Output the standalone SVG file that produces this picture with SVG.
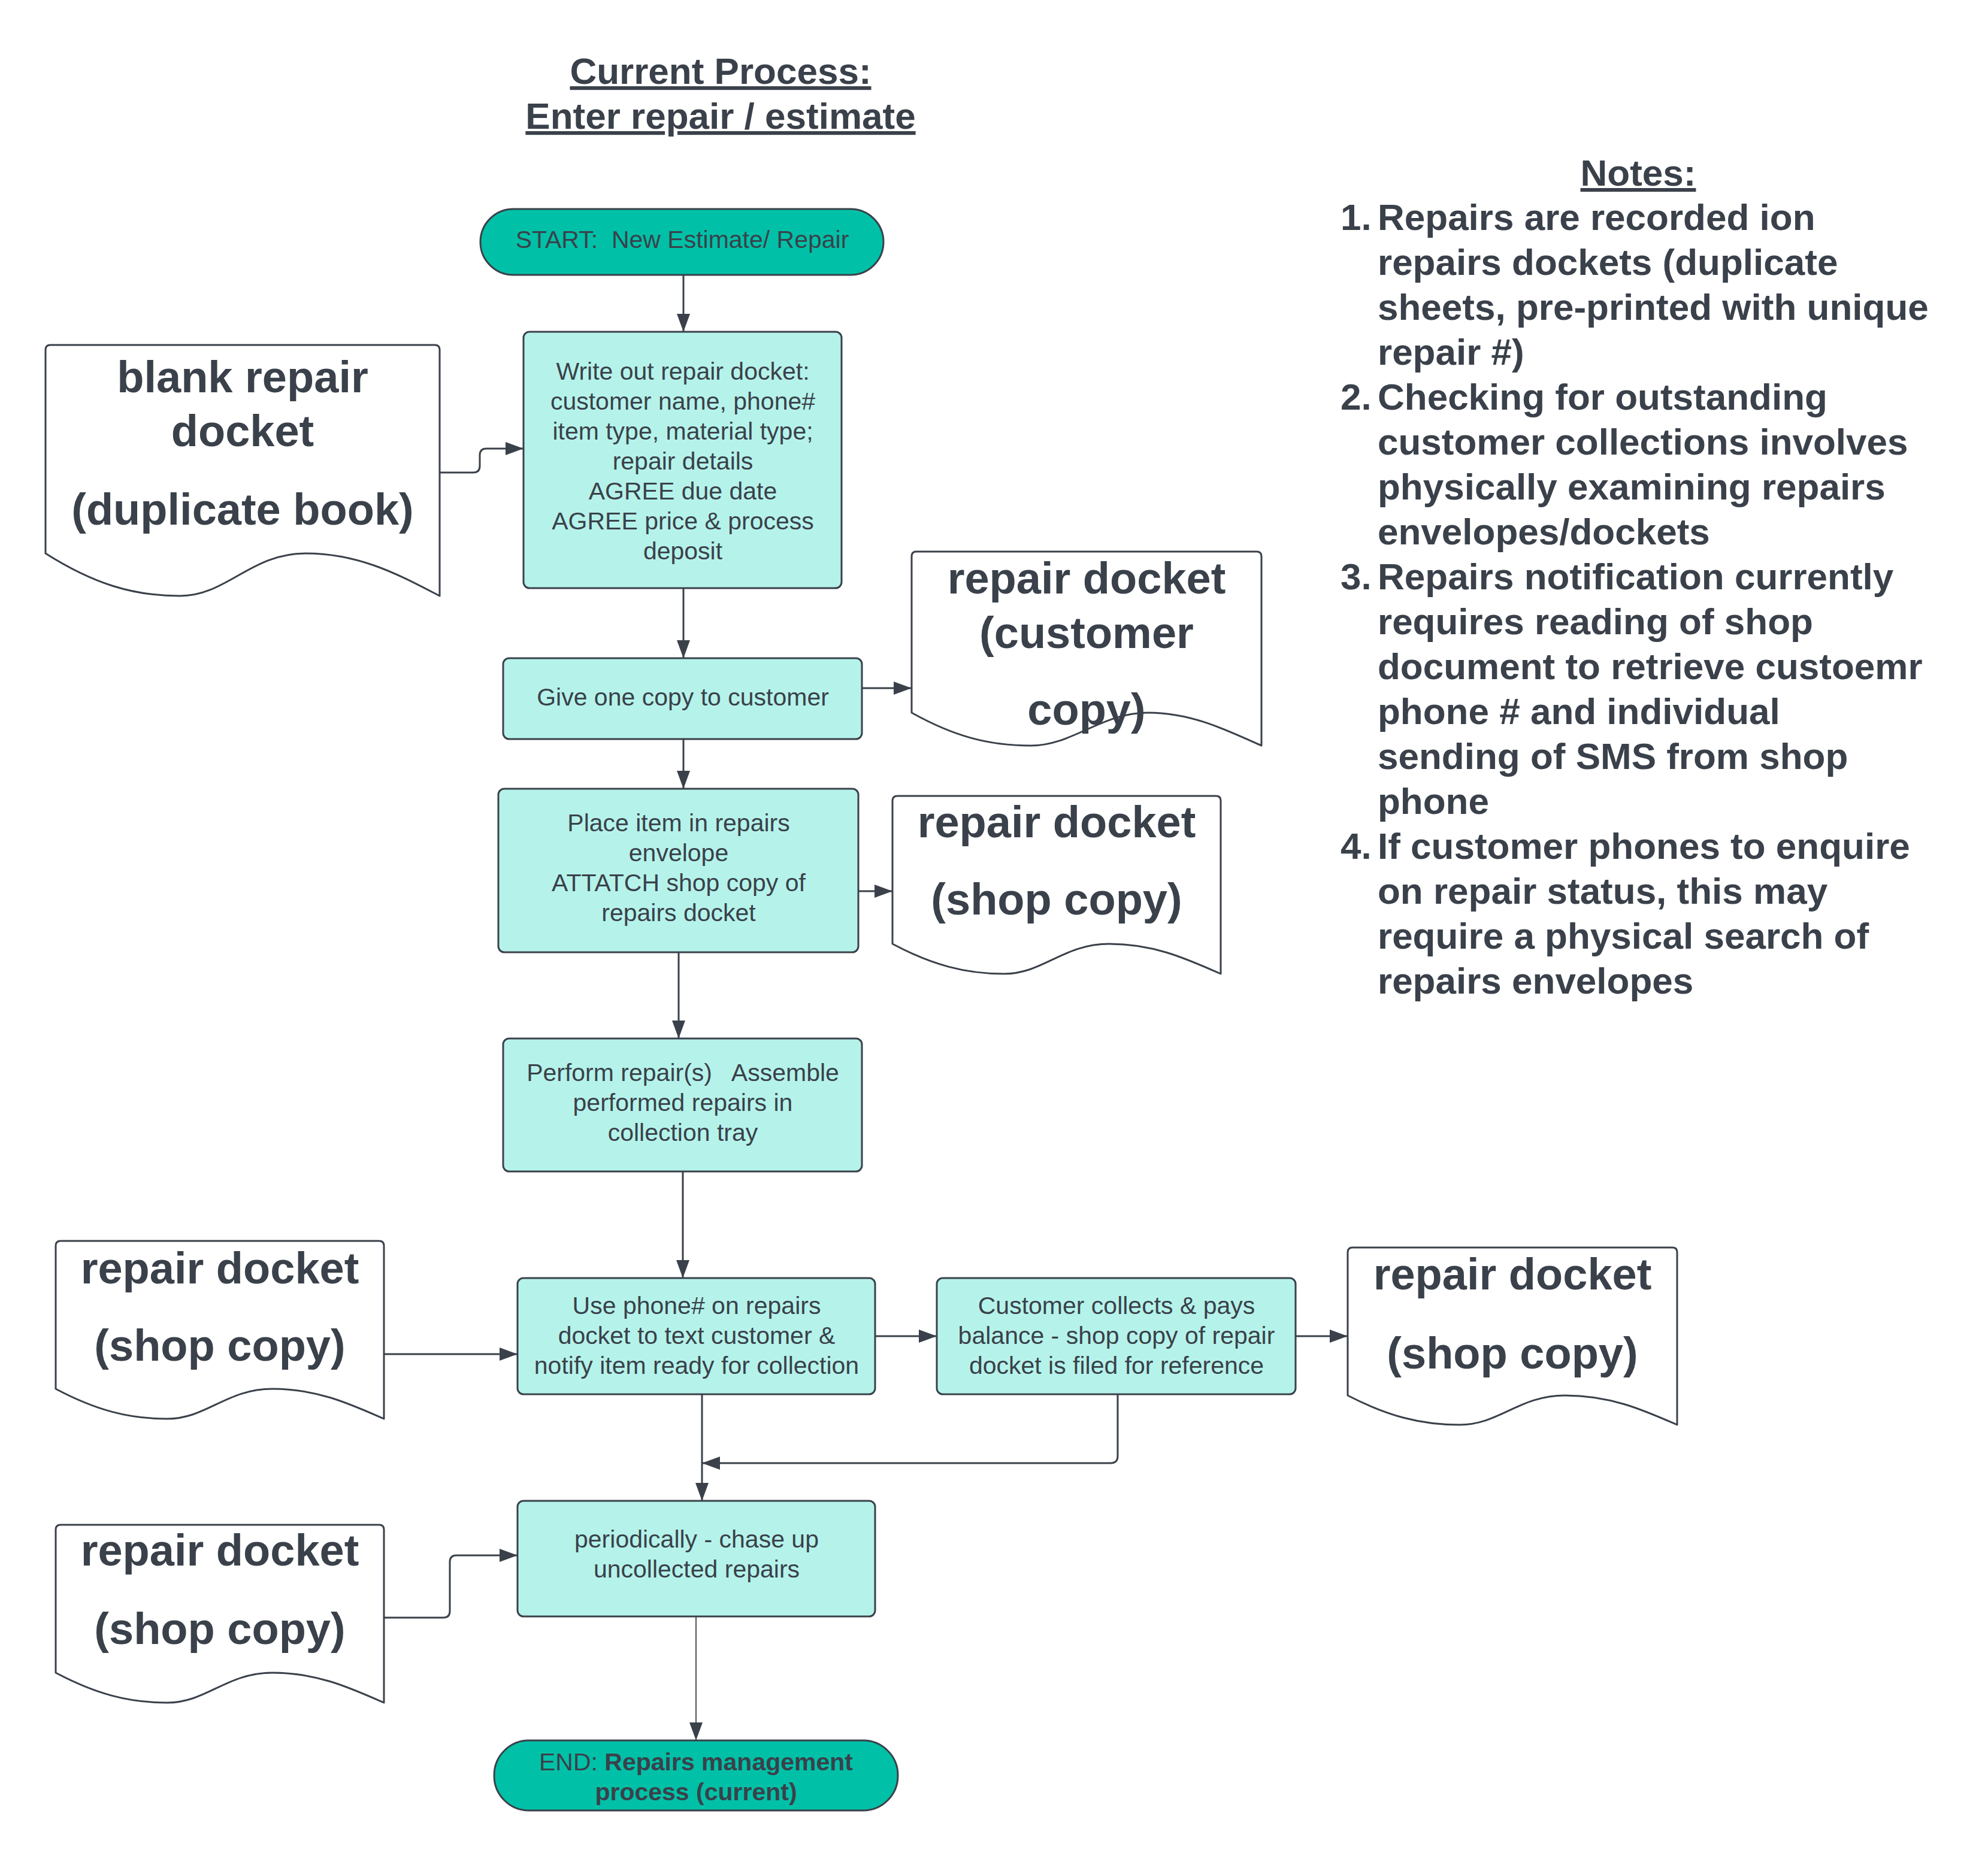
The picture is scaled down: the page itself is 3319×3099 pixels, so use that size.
<svg xmlns="http://www.w3.org/2000/svg" width="3319" height="3099" viewBox="0 0 3319 3099">
<defs>
<style>
.t{font-family:"Liberation Sans",Arial,sans-serif;fill:#3a414a}
.title{font-size:62px;font-weight:bold;text-anchor:middle;text-decoration:underline}
.box{fill:#b5f3ea;stroke:#3a414a;stroke-width:3}
.term{fill:#00c1a7;stroke:#3a414a;stroke-width:3}
.doc{fill:#ffffff;stroke:#3a414a;stroke-width:3;stroke-linejoin:round}
.bt{font-size:41px;text-anchor:middle}
.dt{font-size:74px;font-weight:bold;text-anchor:middle}
.nt{font-size:62px;font-weight:bold}
.c{fill:none;stroke:#3a414a;stroke-width:3;marker-end:url(#ah)}
.cthin{fill:none;stroke:#3a414a;stroke-width:1.8;marker-end:url(#ah)}
</style>
<marker id="ah" markerUnits="userSpaceOnUse" markerWidth="32" markerHeight="22" refX="30" refY="11" orient="auto">
<path d="M0,0 L30,11 L0,22 Z" fill="#3a414a"/>
</marker>
</defs>
<rect width="3319" height="3099" fill="#ffffff"/>

<g id="title">
<text class="t title" x="1203" y="140">Current Process:</text>
<text class="t title" x="1203" y="215">Enter repair / estimate</text>
</g>

<g id="connectors">
<path class="c" d="M1141,459 L1141,554"/>
<path class="c" d="M734,789 L790,789 Q801,789 801,778 L801,760 Q801,749 812,749 L874,749"/>
<path class="c" d="M1141,982 L1141,1099"/>
<path class="c" d="M1439,1149 L1522,1149"/>
<path class="c" d="M1141,1234 L1141,1317"/>
<path class="c" d="M1433,1488 L1490,1488"/>
<path class="c" d="M1133,1590 L1133,1734"/>
<path class="c" d="M1140,1956 L1140,2134"/>
<path class="c" d="M641,2261 L864,2261"/>
<path class="c" d="M1461,2231 L1564,2231"/>
<path class="c" d="M2163,2231 L2250,2231"/>
<path class="c" d="M1172,2328 L1172,2506"/>
<path class="c" d="M1866,2328 L1866,2431 Q1866,2443 1854,2443 L1172,2443"/>
<path class="c" d="M641,2701 L740,2701 Q751,2701 751,2690 L751,2608 Q751,2597 762,2597 L864,2597"/>
<path class="cthin" d="M1162,2699 L1162,2906"/>
</g>

<g id="start">
<rect class="term" x="802" y="349" width="673" height="110" rx="55" ry="55"/>
<text class="t bt" x="1139" y="414" xml:space="preserve">START:  New Estimate/ Repair</text>
</g>

<g id="write-docket">
<rect class="box" x="874" y="554" width="531" height="428" rx="10" ry="10"/>
<text class="t bt" x="1140" y="634">Write out repair docket:</text>
<text class="t bt" x="1140" y="684">customer name, phone#</text>
<text class="t bt" x="1140" y="734">item type, material type;</text>
<text class="t bt" x="1140" y="784">repair details</text>
<text class="t bt" x="1140" y="834">AGREE due date</text>
<text class="t bt" x="1140" y="884">AGREE price &amp; process</text>
<text class="t bt" x="1140" y="934">deposit</text>
</g>

<g id="blank-docket">
<path class="doc" transform="translate(76,576)" d="M0,348 L0,8 Q0,0 8,0 L650,0 Q658,0 658,8 L658,419 C592,385 526,348 434,348 C342,348 303,419 224,419 C145,419 79,398 0,348 Z"/>
<text class="t dt" x="405" y="655">blank repair</text>
<text class="t dt" x="405" y="745">docket</text>
<text class="t dt" x="405" y="876">(duplicate book)</text>
</g>

<g id="give-copy">
<rect class="box" x="840" y="1099" width="599" height="135" rx="10" ry="10"/>
<text class="t bt" x="1140" y="1178">Give one copy to customer</text>
</g>

<g id="customer-copy">
<path class="doc" transform="translate(1522,921)" d="M0,269 L0,8 Q0,0 8,0 L576,0 Q584,0 584,8 L584,324 C526,298 467,269 395,269 C316,269 269,324 199,324 C128,324 70,308 0,269 Z"/>
<text class="t dt" x="1814" y="991">repair docket</text>
<text class="t dt" x="1814" y="1082">(customer</text>
<text class="t dt" x="1814" y="1210">copy)</text>
</g>

<g id="place-item">
<rect class="box" x="832" y="1317" width="601" height="273" rx="10" ry="10"/>
<text class="t bt" x="1133" y="1388">Place item in repairs</text>
<text class="t bt" x="1133" y="1438">envelope</text>
<text class="t bt" x="1133" y="1488">ATTATCH shop copy of</text>
<text class="t bt" x="1133" y="1538">repairs docket</text>
</g>

<g id="shop-copy-1">
<path class="doc" transform="translate(1490,1329)" d="M0,247 L0,8 Q0,0 8,0 L540,0 Q548,0 548,8 L548,297 C493,273 438,247 362,247 C285,247 252,297 186,297 C121,297 66,282 0,247 Z"/>
<text class="t dt" x="1764" y="1398">repair docket</text>
<text class="t dt" x="1764" y="1527">(shop copy)</text>
</g>

<g id="perform-repair">
<rect class="box" x="840" y="1734" width="599" height="222" rx="10" ry="10"/>
<text class="t bt" x="1140" y="1805" xml:space="preserve">Perform repair(s)   Assemble</text>
<text class="t bt" x="1140" y="1855">performed repairs in</text>
<text class="t bt" x="1140" y="1905">collection tray</text>
</g>

<g id="shop-copy-2">
<path class="doc" transform="translate(93,2072)" d="M0,247 L0,8 Q0,0 8,0 L540,0 Q548,0 548,8 L548,297 C493,273 438,247 362,247 C285,247 252,297 186,297 C121,297 66,282 0,247 Z"/>
<text class="t dt" x="367" y="2143">repair docket</text>
<text class="t dt" x="367" y="2272">(shop copy)</text>
</g>

<g id="notify">
<rect class="box" x="864" y="2134" width="597" height="194" rx="10" ry="10"/>
<text class="t bt" x="1163" y="2194">Use phone# on repairs</text>
<text class="t bt" x="1163" y="2244">docket to text customer &amp;</text>
<text class="t bt" x="1163" y="2294">notify item ready for collection</text>
</g>

<g id="collects">
<rect class="box" x="1564" y="2134" width="599" height="194" rx="10" ry="10"/>
<text class="t bt" x="1864" y="2194">Customer collects &amp; pays</text>
<text class="t bt" x="1864" y="2244">balance - shop copy of repair</text>
<text class="t bt" x="1864" y="2294">docket is filed for reference</text>
</g>

<g id="shop-copy-3">
<path class="doc" transform="translate(2250,2083)" d="M0,247 L0,8 Q0,0 8,0 L542,0 Q550,0 550,8 L550,296 C495,272 440,247 363,247 C286,247 253,296 187,296 C121,296 66,281 0,247 Z"/>
<text class="t dt" x="2525" y="2153">repair docket</text>
<text class="t dt" x="2525" y="2285">(shop copy)</text>
</g>

<g id="chase-up">
<rect class="box" x="864" y="2506" width="597" height="193" rx="10" ry="10"/>
<text class="t bt" x="1163" y="2584">periodically - chase up</text>
<text class="t bt" x="1163" y="2634">uncollected repairs</text>
</g>

<g id="shop-copy-4">
<path class="doc" transform="translate(93,2546)" d="M0,247 L0,8 Q0,0 8,0 L540,0 Q548,0 548,8 L548,297 C493,273 438,247 362,247 C285,247 252,297 186,297 C121,297 66,282 0,247 Z"/>
<text class="t dt" x="367" y="2614">repair docket</text>
<text class="t dt" x="367" y="2745">(shop copy)</text>
</g>

<g id="end">
<rect class="term" x="825" y="2906" width="674" height="117" rx="58" ry="58"/>
<text class="t bt" x="1162" y="2956">END: <tspan font-weight="bold">Repairs management</tspan></text>
<text class="t bt" x="1162" y="3006" font-weight="bold">process (current)</text>
</g>

<g id="notes">
<text class="t nt" x="2735" y="310" text-anchor="middle" text-decoration="underline">Notes:</text>
<text class="t nt" x="2238" y="384">1.</text>
<text class="t nt" x="2300" y="384">Repairs are recorded ion</text>
<text class="t nt" x="2300" y="459">repairs dockets (duplicate</text>
<text class="t nt" x="2300" y="534">sheets, pre-printed with unique</text>
<text class="t nt" x="2300" y="609">repair #)</text>
<text class="t nt" x="2238" y="684">2.</text>
<text class="t nt" x="2300" y="684">Checking for outstanding</text>
<text class="t nt" x="2300" y="759">customer collections involves</text>
<text class="t nt" x="2300" y="834">physically examining repairs</text>
<text class="t nt" x="2300" y="909">envelopes/dockets</text>
<text class="t nt" x="2238" y="984">3.</text>
<text class="t nt" x="2300" y="984">Repairs notification currently</text>
<text class="t nt" x="2300" y="1059">requires reading of shop</text>
<text class="t nt" x="2300" y="1134">document to retrieve custoemr</text>
<text class="t nt" x="2300" y="1209">phone # and individual</text>
<text class="t nt" x="2300" y="1284">sending of SMS from shop</text>
<text class="t nt" x="2300" y="1359">phone</text>
<text class="t nt" x="2238" y="1434">4.</text>
<text class="t nt" x="2300" y="1434">If customer phones to enquire</text>
<text class="t nt" x="2300" y="1509">on repair status, this may</text>
<text class="t nt" x="2300" y="1584">require a physical search of</text>
<text class="t nt" x="2300" y="1659">repairs envelopes</text>
</g>
</svg>
